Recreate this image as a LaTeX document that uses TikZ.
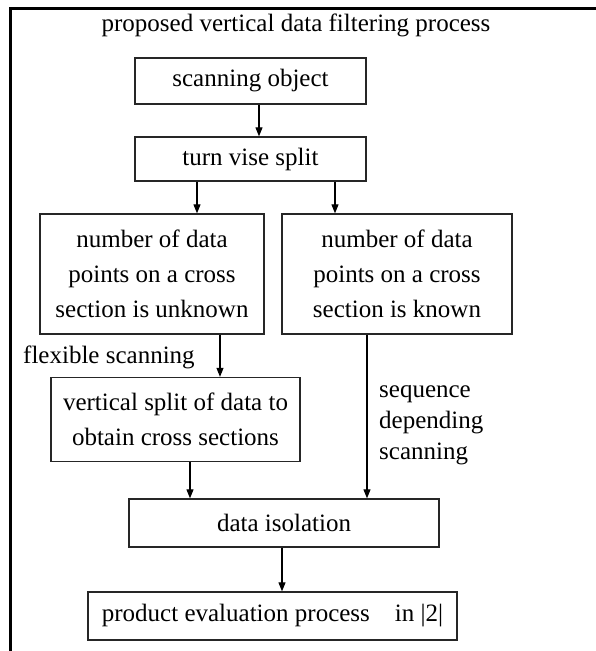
\documentclass[tikz,border=0pt]{standalone}
\usepackage{fontspec}
\setmainfont{Liberation Serif}
\usetikzlibrary{arrows.meta}
\begin{document}
\begin{tikzpicture}[x=1pt,y=-1pt,
  box/.style={draw=black!85, line width=1.3pt, inner sep=0pt, align=center,
    font=\fontsize{25}{35}\selectfont},
  lbl/.style={inner sep=0pt, font=\fontsize{25}{31}\selectfont},
  arr/.style={-{Triangle[length=9pt,width=7pt]}, line width=1.1pt}]
\useasboundingbox (0,0) rectangle (596,651);
\draw[line width=3pt] (596,8.7) -- (10.3,8.7) -- (10.3,651);
\node[lbl, anchor=base] (title) at (296,31) {proposed vertical data filtering process};
\node[box, minimum width=231pt, minimum height=46pt] (b1) at (250.5,81) {scanning object};
\node[box, minimum width=231pt, minimum height=44pt] (b2) at (250.5,159) {turn vise split};
\node[box, minimum width=224pt, minimum height=120pt] (b3) at (152,274) {number of data\\points on a cross\\section is unknown};
\node[box, minimum width=230pt, minimum height=120pt] (b4) at (397,274) {number of data\\points on a cross\\section is known};
\node[box, minimum width=249pt, minimum height=84pt] (b5) at (175.5,419.5) {vertical split of data to\\obtain cross sections};
\node[box, minimum width=310pt, minimum height=48pt] (b6) at (284,523) {data isolation};
\node[box, minimum width=369pt, minimum height=48pt] (b7) at (272.5,616) {product evaluation process\quad in |2|};
\node[lbl, anchor=base west] (flex) at (23,363) {flexible scanning};
\node[lbl, anchor=west, align=left] (seq) at (379,425) {sequence\\depending\\scanning};
\draw[arr] ([xshift=8.5pt]b1.south) -- ([xshift=8.5pt]b2.north);
\draw[arr] ([xshift=-53.5pt]b2.south) -- ([xshift=45pt]b3.north);
\draw[arr] ([xshift=84.5pt]b2.south) -- ([xshift=-62pt]b4.north);
\draw[arr] ([xshift=68pt]b3.south) -- ([xshift=44.5pt]b5.north);
\draw[arr] ([xshift=-30pt]b4.south) -- ([xshift=83pt]b6.north);
\draw[arr] ([xshift=14.5pt]b5.south) -- ([xshift=-94pt]b6.north);
\draw[arr] ([xshift=-2pt]b6.south) -- ([xshift=9.5pt]b7.north);
\end{tikzpicture}
\end{document}
